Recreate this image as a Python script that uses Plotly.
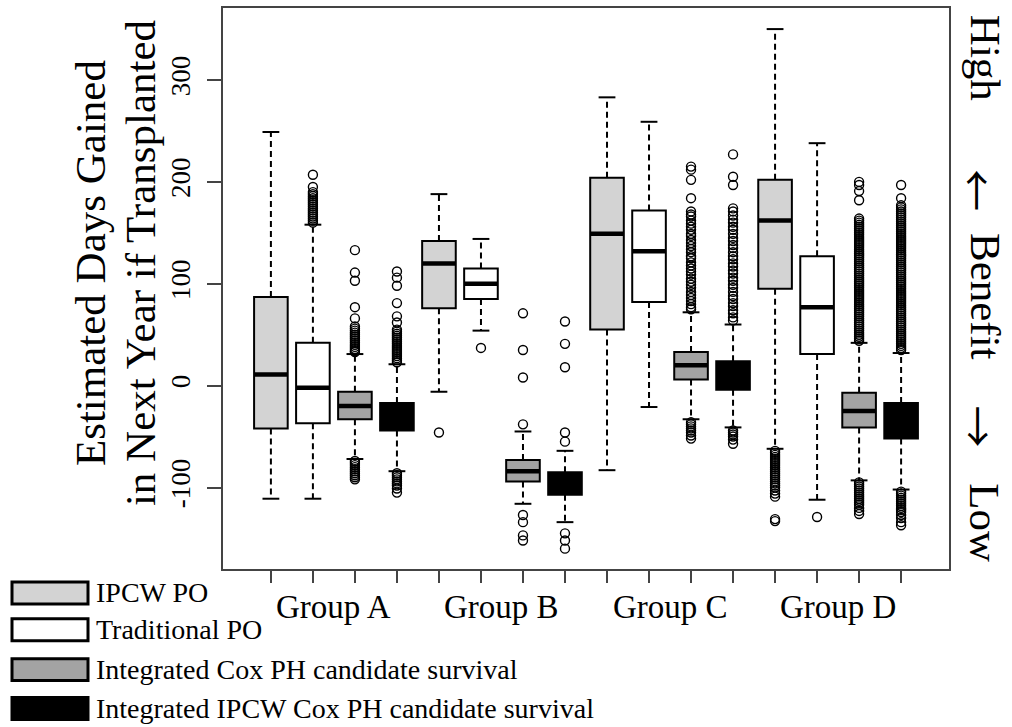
import plotly.graph_objects as go

# ---- data -------------------------------------------------------------
groups = ["Group A", "Group B", "Group C", "Group D"]
series_names = ["IPCW PO", "Traditional PO",
                "Integrated Cox PH candidate survival",
                "Integrated IPCW Cox PH candidate survival"]
series_fill = ["#d3d3d3", "#ffffff", "#a3a3a3", "#000000"]

# five-number summaries, one value per group (A, B, C, D)
ipcw_po_low = [-111, -6, -83, -62]
ipcw_po_q1 = [-42, 76, 55, 95]
ipcw_po_med = [11, 120, 149, 162]
ipcw_po_q3 = [87, 142, 204, 202]
ipcw_po_high = [249, 188, 283, 350]

trad_po_low = [-111, 54, -21, -112]
trad_po_q1 = [-37, 85, 82, 31]
trad_po_med = [-2, 100, 132, 77]
trad_po_q3 = [42, 115, 172, 127]
trad_po_high = [158, 144, 259, 238]

cox_low = [-72, -116, -33, -93]
cox_q1 = [-33, -94, 6, -41]
cox_med = [-20, -84, 20, -25]
cox_q3 = [-6, -73, 33, -7]
cox_high = [31, -45, 72, 42]

ipcw_cox_low = [-84, -134, -41, -102]
ipcw_cox_q1 = [-44, -107, -4, -52]
ipcw_cox_med = [-31, -96, 10, -34]
ipcw_cox_q3 = [-17, -85, 24, -17]
ipcw_cox_high = [21, -64, 60, 32]

# outlying values, one list per group
ipcw_po_out = [
    [],
    [-46],
    [],
    [-64, -66, -68, -70, -72, -74, -76, -78, -80, -82, -84, -86, -88, -90,
     -92, -94, -96, -98, -100, -103, -106, -109, -131, -133],
]
trad_po_out = [
    [207, 195, 190, 188, 186, 184, 182, 180, 178, 176, 174, 172, 170, 168,
     166, 164, 162, 160],
    [37],
    [],
    [-129],
]
cox_out = [
    [133, 111, 103, 77, 66, 58, 56, 54, 52, 50, 48, 46, 44, 42, 40, 38, 36,
     34, 33, -74, -76, -78, -80, -82, -84, -86, -88, -90, -92],
    [71, 35, 8, -38, -127, -134, -147, -152],
    [215, 212, 202, 184, 171, 168, 166, 162, 159, 156, 153, 149, 147, 143,
     140, 137, 134, 131, 127, 125, 121, 118, 115, 112, 109, 105, 102, 99, 96,
     92, 89, 86, 83, 80, 77, 75, -36, -38, -40, -42, -44, -46, -49, -52],
    [200, 197, 191, 182, 164, 162, 160, 158, 156, 154, 152, 150, 148, 146,
     144, 142, 140, 138, 136, 134, 132, 130, 128, 126, 124, 122, 120, 118,
     116, 114, 112, 110, 108, 106, 104, 102, 100, 98, 96, 94, 92, 90, 88, 86,
     84, 82, 80, 78, 76, 74, 72, 70, 68, 66, 64, 62, 60, 58, 56, 54, 52, 50,
     48, 46, 44, -95, -97, -99, -101, -103, -105, -107, -109, -111, -113,
     -115, -117, -120, -123, -126],
]
ipcw_cox_out = [
    [112, 106, 98, 81, 68, 62, 55, 53, 51, 49, 47, 45, 43, 41, 39, 37, 35,
     33, 31, 29, 27, 25, 23, -86, -88, -90, -92, -94, -96, -98, -101, -105],
    [63, 41, 18, -46, -55, -145, -152, -160],
    [227, 205, 197, 174, 171, 167, 163, 160, 156, 153, 149, 145, 142, 138,
     135, 131, 127, 124, 120, 117, 113, 110, 106, 103, 99, 96, 92, 88, 85,
     81, 78, 74, 71, 67, 64, -44, -46, -48, -50, -53, -57],
    [197, 184, 177, 175, 173, 171, 169, 167, 165, 163, 161, 159, 157, 155,
     153, 151, 149, 147, 145, 143, 141, 139, 137, 135, 133, 131, 129, 127,
     125, 123, 121, 119, 117, 115, 113, 111, 109, 107, 105, 103, 101, 99, 97,
     95, 93, 91, 89, 87, 85, 83, 81, 79, 77, 75, 73, 71, 69, 67, 65, 63, 61,
     59, 57, 55, 53, 51, 49, 47, 45, 43, 41, 39, 37, 35, -104, -106, -108,
     -110, -112, -114, -116, -118, -120, -122, -124, -127, -130, -134, -137],
]

y_ticks = [-100, 0, 100, 200, 300]

# ---- layout helpers ---------------------------------------------------
W, H = 1012, 727
ML, MR, MT, MB = 223, 63, 6, 158
PW, PH = W - ML - MR, H - MT - MB


def paper_x(px):
    return (px - ML) / PW


def paper_y(py):
    return (H - MB - py) / PH


FONT = "Liberation Serif"
ARROW_FONT = "Noto Sans CJK JP"
BOX_W = 0.8
CAP_HALF = 0.2

stats = [
    (ipcw_po_low, ipcw_po_q1, ipcw_po_med, ipcw_po_q3, ipcw_po_high, ipcw_po_out),
    (trad_po_low, trad_po_q1, trad_po_med, trad_po_q3, trad_po_high, trad_po_out),
    (cox_low, cox_q1, cox_med, cox_q3, cox_high, cox_out),
    (ipcw_cox_low, ipcw_cox_q1, ipcw_cox_med, ipcw_cox_q3, ipcw_cox_high, ipcw_cox_out),
]

fig = go.Figure()

for k, (low, q1, med, q3, high, outs) in enumerate(stats):
    pos = [4 * g + k + 1 for g in range(len(groups))]

    # dashed whiskers with solid end caps
    wx, wy, cx, cy = [], [], [], []
    for p, lo, a, b, hi in zip(pos, low, q1, q3, high):
        wx += [p, p, None, p, p, None]
        wy += [b, hi, None, a, lo, None]
        cx += [p - CAP_HALF, p + CAP_HALF, None, p - CAP_HALF, p + CAP_HALF, None]
        cy += [hi, hi, None, lo, lo, None]
    fig.add_trace(go.Scatter(x=wx, y=wy, mode="lines", hoverinfo="skip",
                             line=dict(color="black", width=2, dash="6px,4px"),
                             showlegend=False))
    fig.add_trace(go.Scatter(x=cx, y=cy, mode="lines", hoverinfo="skip",
                             line=dict(color="black", width=2),
                             showlegend=False))

    # boxes
    fig.add_trace(go.Box(x=pos, q1=q1, median=med, q3=q3,
                         lowerfence=q1, upperfence=q3,
                         width=BOX_W, whiskerwidth=0, boxpoints=False,
                         fillcolor=series_fill[k],
                         line=dict(color="black", width=2),
                         name=series_names[k], showlegend=False))

    # heavy median bars
    mx, my = [], []
    for p, m in zip(pos, med):
        mx += [p - BOX_W / 2, p + BOX_W / 2, None]
        my += [m, m, None]
    fig.add_trace(go.Scatter(x=mx, y=my, mode="lines", hoverinfo="skip",
                             line=dict(color="black", width=4.5),
                             showlegend=False))

    # outliers
    ox, oy = [], []
    for p, vals in zip(pos, outs):
        ox += [p] * len(vals)
        oy += vals
    fig.add_trace(go.Scatter(x=ox, y=oy, mode="markers",
                             marker=dict(symbol="circle-open", size=9,
                                         color="black", line=dict(width=1.4)),
                             showlegend=False))

# group labels under the axis
for g, name in enumerate(groups):
    fig.add_annotation(x=4 * g + 2.5, y=paper_y(607), xref="x", yref="paper",
                       text=name, showarrow=False, yanchor="middle",
                       font=dict(family=FONT, size=33, color="black"))

# y-axis title (two lines)
for txt, px in [("Estimated Days Gained", 90),
                ("in Next Year if Transplanted", 140)]:
    fig.add_annotation(x=paper_x(px), y=paper_y(262), xref="paper", yref="paper",
                       text=txt, showarrow=False, textangle=-90,
                       xanchor="center", yanchor="middle",
                       font=dict(family=FONT, size=43, color="black"))

# benefit scale on the right
for txt, py, px, fam, sz in [("High", 56, 985, FONT, 43),
                             ("\u2190", 189, 980, ARROW_FONT, 42),
                             ("Benefit", 295, 985, FONT, 43),
                             ("\u2192", 426, 980, ARROW_FONT, 42),
                             ("Low", 522, 985, FONT, 43)]:
    fig.add_annotation(x=paper_x(px), y=paper_y(py), xref="paper", yref="paper",
                       text=txt, showarrow=False, textangle=90,
                       xanchor="center", yanchor="middle",
                       font=dict(family=fam, size=sz, color="black"))

# legend swatches
legend_rows = [(582, 604), (619, 641), (659, 681), (698, 720)]
for k, (top, bot) in enumerate(legend_rows):
    fig.add_shape(type="rect", xref="paper", yref="paper",
                  x0=paper_x(12), x1=paper_x(88),
                  y0=paper_y(bot), y1=paper_y(top),
                  fillcolor=series_fill[k], line=dict(color="black", width=3))
    fig.add_annotation(x=paper_x(94), y=paper_y((top + bot) / 2),
                       xref="paper", yref="paper", text=series_names[k],
                       showarrow=False, xanchor="left", yanchor="middle",
                       font=dict(family=FONT, size=28, color="black"))

fig.update_layout(
    width=W, height=H,
    margin=dict(l=ML, r=MR, t=MT, b=MB, pad=0),
    paper_bgcolor="white", plot_bgcolor="white",
    boxmode="overlay",
    xaxis=dict(range=[-0.14, 17.14], tickvals=list(range(1, 17)),
               ticktext=[""] * 16, ticks="outside", ticklen=12, tickwidth=1.5,
               tickcolor="#444", showgrid=False, zeroline=False,
               showline=True, mirror=True, linecolor="#444", linewidth=2),
    yaxis=dict(range=[-180, 370.7], tickvals=y_ticks,
               ticktext=[str(v) for v in y_ticks], tickangle=-90,
               ticks="outside", ticklen=14, tickwidth=1.5, tickcolor="#444",
               tickfont=dict(family=FONT, size=27, color="black"),
               ticklabelstandoff=6,
               showgrid=False, zeroline=False,
               showline=True, mirror=True, linecolor="#444", linewidth=2),
)

fig.write_html("out.html")
